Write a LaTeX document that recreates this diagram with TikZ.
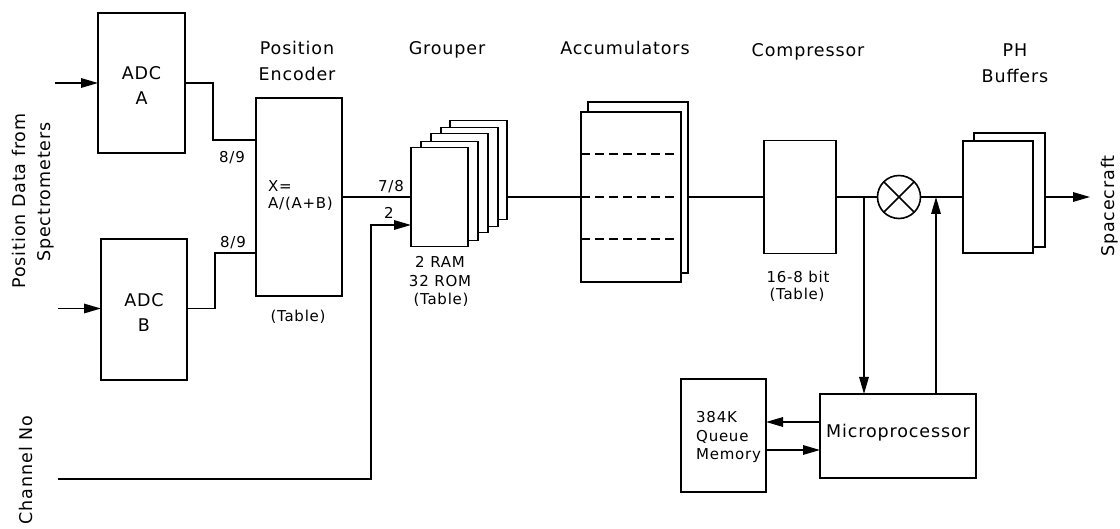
\documentclass[tikz,border=0pt]{standalone}
\usepackage{fontspec}
\setmainfont{DejaVu Sans}[LetterSpace=5]
\usetikzlibrary{arrows.meta}
\begin{document}
\begin{tikzpicture}[x=1pt,y=-1pt,
  box/.style={draw, line width=1.6pt, fill=white, inner sep=0pt, outer sep=0pt},
  wire/.style={line width=1.6pt},
  arr/.style={wire, -{Triangle[length=17pt,width=9.5pt]}},
  dsh/.style={line width=1.4pt, dash pattern=on 9pt off 5pt},
  big/.style={font=\fontsize{17.5}{20}\selectfont, inner sep=0pt, anchor=base},
  small/.style={font=\fontsize{15}{17}\selectfont, inner sep=0pt, anchor=base}]
\useasboundingbox (0,0) rectangle (1120,529);

% ADCs
\node[box, minimum width=87pt, minimum height=140pt] (adcA) at (141.5,83) {};
\node[box, minimum width=86pt, minimum height=141pt] (adcB) at (144,309.5) {};
\node[big] (adcAt1) at (141.5,80) {ADC};
\node[big] (adcAt2) at (141.5,105) {A};
\node[big] (adcBt1) at (144,307) {ADC};
\node[big] (adcBt2) at (144,332) {B};

% Position encoder
\node[box, minimum width=86pt, minimum height=198pt] (pe) at (299,197) {};
\node[big] (pel1) at (297,55) {Position};
\node[big] (pel2) at (297,81) {Encoder};
\node[small, anchor=base west] (pex1) at (268,192) {X=};
\node[small, anchor=base west] (pex2) at (268,209) {A/(A+B)};
\node[small] (petab) at (298,322) {(Table)};

% Grouper
\node[box, minimum width=57pt, minimum height=99pt] (g5) at (478.5,170) {};
\node[box, minimum width=57pt, minimum height=99pt] (g4) at (469.5,177) {};
\node[box, minimum width=57pt, minimum height=99pt] (g3) at (459.5,183) {};
\node[box, minimum width=57pt, minimum height=99pt] (g2) at (449.5,191) {};
\node[box, minimum width=57pt, minimum height=99pt] (g1) at (439.5,197) {};
\node[big] (gl) at (447,55) {Grouper};
\node[small] (gt1) at (440,268) {2 RAM};
\node[small] (gt2) at (440,287) {32 ROM};
\node[small] (gt3) at (441,305) {(Table)};

% Accumulators
\node[box, minimum width=100pt, minimum height=171pt] (accb) at (638,187.5) {};
\node[box, minimum width=100pt, minimum height=170pt] (acc) at (631,197) {};
\draw[dsh] (581,154) -- (676,154);
\draw[dsh] (581,197) -- (676,197);
\draw[dsh] (581,239) -- (676,239);
\node[big] (accl) at (625,55) {Accumulators};

% Compressor
\node[box, minimum width=72pt, minimum height=113pt] (comp) at (800,197) {};
\node[big] (compl) at (808,57) {Compressor};
\node[small] (ct1) at (798,283) {16-8 bit};
\node[small] (ct2) at (797,300) {(Table)};

% Multiplier
\node[draw, circle, line width=1.6pt, minimum size=43pt, inner sep=0pt, outer sep=0pt] (mult) at (899,197) {};
\draw[wire] (mult.north west) -- (mult.south east);
\draw[wire] (mult.north east) -- (mult.south west);

% PH buffers
\node[box, minimum width=71pt, minimum height=114pt] (phb) at (1009.5,190) {};
\node[box, minimum width=70pt, minimum height=112pt] (ph) at (998,197) {};
\node[big] (phl1) at (1015,57) {PH};
\node[big] (phl2) at (1015,83) {Buffers};

% Microprocessor and memory
\node[box, minimum width=156pt, minimum height=84pt] (micro) at (898,436) {};
\node[big] (microt) at (898,438) {Microprocessor};
\node[box, minimum width=85pt, minimum height=113pt] (mem) at (723.5,435.5) {};
\node[small, anchor=base west] (memt1) at (696,423) {384K};
\node[small, anchor=base west] (memt2) at (696,442) {Queue};
\node[small, anchor=base west] (memt3) at (696,460) {Memory};

% Side labels
\node[big, rotate=90] (lpos1) at (25,201) {Position Data from};
\node[big, rotate=90] (lpos2) at (50,192) {Spectrometers};
\node[big, rotate=90] (lch) at (32,470) {Channel No};
\node[big, rotate=90] (lsc) at (1114,206) {Spacecraft};

% bit labels
\node[small] (b89a) at (232,163) {8/9};
\node[small] (b89b) at (233,248) {8/9};
\node[small] (b78) at (391,192) {7/8};
\node[small] (b2) at (389,219) {2};

% Coordinates
\coordinate (inA) at (55,83);
\coordinate (inB) at (58,308.5);
\coordinate (jA) at (213,140);
\coordinate (jB) at (215,253);
\coordinate (ch) at (58,479);
\coordinate (chup) at (371,225);
\coordinate (sc) at (1090,197);
\coordinate (bd) at (864,197);
\coordinate (bu) at (936,197);
\coordinate (m1) at (820,422);
\coordinate (m2) at (820,450);

% Connectors
\draw[arr] (inA) -- (adcA.west);
\draw[arr] (inB) -- (inB -| adcB.west);
\draw[wire] (adcA.east) -| (jA) -- (jA -| pe.west);
\draw[wire] (inB -| adcB.east) -| (jB) -- (jB -| pe.west);
\draw[wire] (pe.east) -- (g1.west);
\draw[arr] (ch) -| (chup) -- (chup -| g1.west);
\draw[wire] (acc.west -| g5.east) -- (acc.west);
\draw[wire] (comp.west -| accb.east) -- (comp.west);
\draw[wire] (comp.east) -- (mult.west);
\draw[wire] (mult.east) -- (ph.west);
\draw[arr] (ph.east -| phb.east) -- (sc);
\draw[arr] (bd) -- (bd |- micro.north);
\draw[arr] (bu |- micro.north) -- (bu);
\draw[arr] (m1) -- (m1 -| mem.east);
\draw[arr] (m2 -| mem.east) -- (m2);
\end{tikzpicture}
\end{document}
